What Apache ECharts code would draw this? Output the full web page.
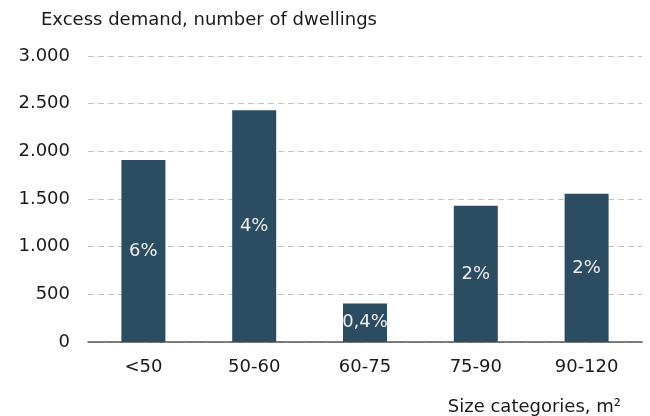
<!DOCTYPE html>
<html>
<head>
<meta charset="utf-8">
<script src="https://cdn.jsdelivr.net/npm/echarts@6/dist/echarts.min.js"></script>
<style>
  html, body { margin: 0; padding: 0; background: #fff; }
  #chart { width: 650px; height: 416px; }
</style>
</head>
<body>
<div id="chart"></div>
<script>
const categories = ['<50', '50-60', '60-75', '75-90', '90-120']
const demand = [1910, 2430, 405, 1430, 1555]
const shares = ['6%', '4%', '0,4%', '2%', '2%']
const yTicks = [0, 500, 1000, 1500, 2000, 2500, 3000]

const chart = echarts.init(document.getElementById('chart'))
const font = 'DejaVu Sans'

const option = {
  animation: false,
  backgroundColor: '#ffffff',
  textStyle: { fontFamily: font },
  title: {
    text: 'Excess demand, number of dwellings',
    left: 36,
    top: 6,
    textStyle: { color: '#1a1a1a', fontFamily: font, fontSize: 18, fontWeight: 'normal' }
  },
  grid: { left: 88, right: 8, top: 56, bottom: 73 },
  xAxis: {
    type: 'category',
    data: categories,
    name: 'Size categories, m²',
    nameLocation: 'end',
    nameGap: 0,
    nameTextStyle: {
      color: '#1a1a1a', fontFamily: font, fontSize: 18,
      align: 'right', verticalAlign: 'top', padding: [56, 21, 0, 0]
    },
    axisLine: { lineStyle: { color: '#555', width: 1.5 } },
    axisTick: { show: false },
    axisLabel: { color: '#1a1a1a', fontFamily: font, fontSize: 18, margin: 16 }
  },
  yAxis: {
    type: 'value',
    min: yTicks[0],
    max: yTicks[yTicks.length - 1],
    interval: 500,
    axisLine: { show: false },
    axisTick: { show: false },
    axisLabel: {
      color: '#1a1a1a', fontFamily: font, fontSize: 18, margin: 18,
      formatter: (v) => String(v).replace(/\B(?=(\d{3})+(?!\d))/g, '.')
    },
    splitLine: { lineStyle: { color: '#c4c4c4', type: [6, 4], width: 1.2 } }
  },
  series: [{
    type: 'bar',
    data: demand,
    barWidth: 44,
    itemStyle: { color: '#2c4c62' },
    label: {
      show: true,
      position: 'inside',
      color: '#eeeeee',
      fontFamily: font,
      fontSize: 18,
      formatter: (p) => shares[p.dataIndex]
    }
  }]
}

chart.setOption(option)
</script>
</body>
</html>
